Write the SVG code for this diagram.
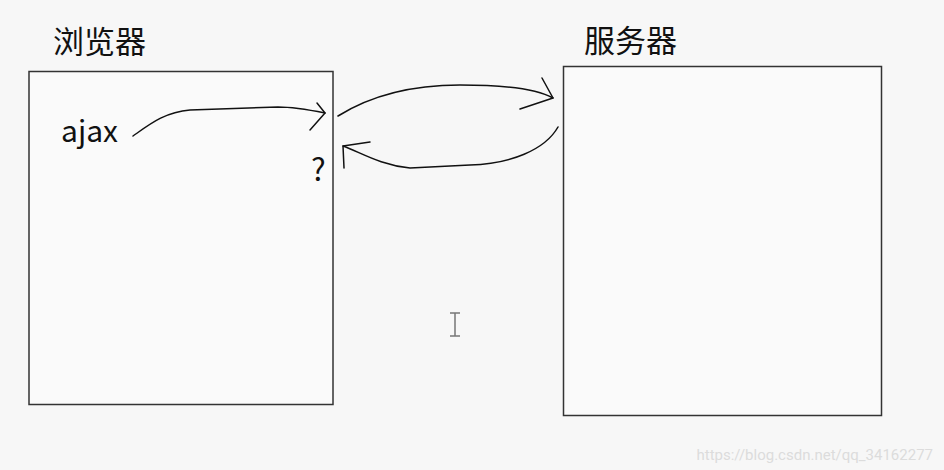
<svg xmlns="http://www.w3.org/2000/svg" width="944" height="470" viewBox="0 0 944 470">
<style>
.box{fill:#fafafa;stroke:#333;stroke-width:1.5}
.t{font-family:"Noto Sans CJK SC","Noto Sans",sans-serif;fill:#111}
.ln{fill:none;stroke:#111;stroke-width:1.5;stroke-linecap:round;stroke-linejoin:round}
</style>
<rect width="944" height="470" fill="#f7f7f7"/>
<g id="browser">
<rect class="box" x="29" y="71.5" width="304" height="333"/>
<text class="t" x="53" y="53" font-size="31">浏览器</text>
<text class="t" x="61" y="142" font-size="30">ajax</text>
<text class="t" x="311" y="181" font-size="31">?</text>
</g>
<g id="server">
<rect class="box" x="563.5" y="66.5" width="318" height="349"/>
<text class="t" x="584" y="52" font-size="31">服务器</text>
</g>
<g id="connectors">
<path class="ln" d="M133,136 C150,124 165,112 190,110 L278,107 C295,107 310,110 325,113"/>
<path class="ln" d="M317,103 L325,113 L310,130"/>
<path class="ln" d="M338,116 C370,96 410,85 460,85 C500,85 535,88 553,98"/>
<path class="ln" d="M542,78 L553,98 L520,109"/>
<path class="ln" d="M558,127 C545,150 510,164 470,165 L410,168 C380,165 360,152 343,146"/>
<path class="ln" d="M370,142 L343,146 L344,168"/>
</g>
<g id="cursor" stroke="#777" stroke-width="1.5" fill="none">
<path d="M455,313 V336 M450,313 H460 M450,336 H460"/>
</g>
<text x="933" y="460" text-anchor="end" font-family="Roboto,'Liberation Sans',sans-serif" font-size="15" fill="#dcdcdc">https://blog.csdn.net/qq_34162277</text>
</svg>
